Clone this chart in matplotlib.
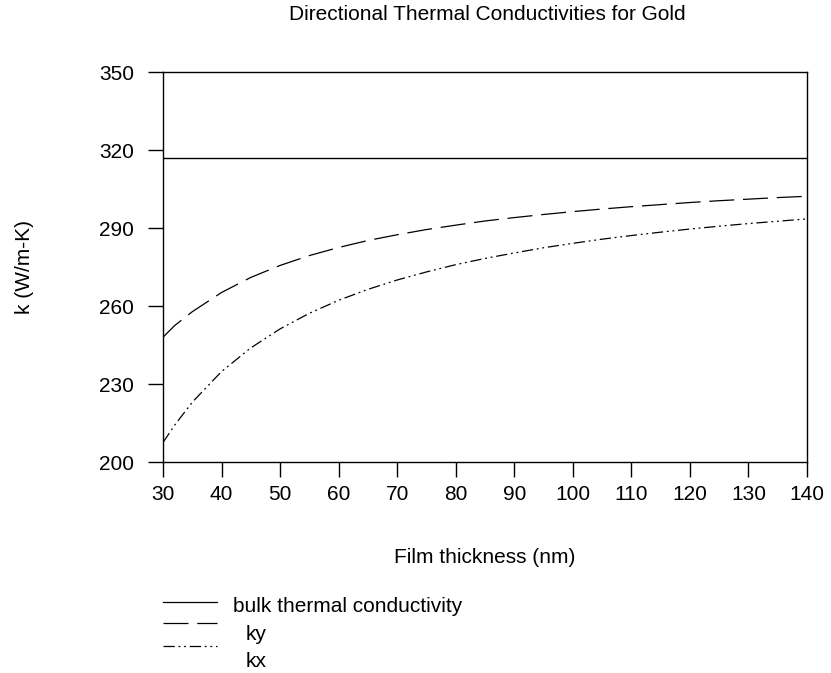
import matplotlib
matplotlib.use('Agg')
import matplotlib.pyplot as plt
from matplotlib.lines import Line2D

plt.rcParams['font.family'] = ['Liberation Sans', 'DejaVu Sans']

# film thickness (nm)
thickness = [30, 32, 35, 40, 45, 50, 55, 60, 65, 70, 75, 80, 85, 90, 95,
             100, 105, 110, 115, 120, 125, 130, 135, 140]
# ky (W/m-K)
ky = [248.0, 252.5, 257.8, 265.2, 271.0, 275.6, 279.4, 282.5, 285.2, 287.4, 289.4, 291.1,
      292.7, 294.0, 295.2, 296.3, 297.3, 298.2, 299.0, 299.8, 300.5, 301.1, 301.7, 302.2]
# kx (W/m-K)
kx = [207.5, 214.2, 223.0, 234.8, 243.9, 251.2, 257.2, 262.2, 266.4, 270.0, 273.1, 275.9,
      278.3, 280.4, 282.4, 284.1, 285.7, 287.1, 288.4, 289.6, 290.7, 291.7, 292.6, 293.5]
bulk_k = 317.0

yticks = [200, 230, 260, 290, 320, 350]
xticks = list(range(30, 141, 10))

W, H = 831, 673
KY_DASH = (20, 7)
KX_DASH = (9, 3, 1.5, 3, 1.5, 3)

fig = plt.figure(figsize=(W/100, H/100), dpi=100)
ax = fig.add_axes([163/W, 1-462/H, 644/W, 390/H])

ax.axhline(bulk_k, color='black', lw=1.0)
ax.plot(thickness, ky, color='black', lw=0.9, dashes=KY_DASH)
ax.plot(thickness, kx, color='black', lw=0.9, dashes=KX_DASH)

ax.set_xlim(30, 140)
ax.set_ylim(200, 350)
ax.set_xticks(xticks)
ax.set_yticks(yticks)
ax.tick_params(direction='out', length=10.8, width=1, labelsize=15)
ax.tick_params(axis='x', pad=6)
ax.tick_params(axis='y', pad=10)
for s in ax.spines.values():
    s.set_linewidth(1)

fig.text(487/W, 1-15/H, 'Directional Thermal Conductivities for Gold',
         fontsize=15, ha='center', va='center')

ax.set_xlabel('Film thickness (nm)', fontsize=15)
ax.xaxis.label.set_va('baseline')
ax.xaxis.set_label_coords(0.5, -(563-462)/390)
ax.set_ylabel('k (W/m-K)', fontsize=15)
ax.yaxis.label.set_va('center')
ax.yaxis.set_label_coords(-(163-24)/644, 0.5)

# legend drawn below the plot
def px(x, y):
    return x/W, 1-y/H

legend_items = [
    (602, None, 'bulk thermal conductivity', 233, 612),
    (623, KY_DASH, 'ky', 246, 640),
    (646, KX_DASH, 'kx', 246, 667),
]
for ly, dash, label, tx, ty in legend_items:
    x0, y0 = px(163, ly)
    x1, _ = px(217, ly)
    line = Line2D([x0, x1], [y0, y0], transform=fig.transFigure, color='black', lw=0.9)
    if dash:
        line.set_dashes(dash)
    fig.add_artist(line)
    fx, fy = px(tx, ty)
    fig.text(fx, fy, label, fontsize=15, va='baseline', ha='left')

plt.savefig('out.png', dpi=100)
